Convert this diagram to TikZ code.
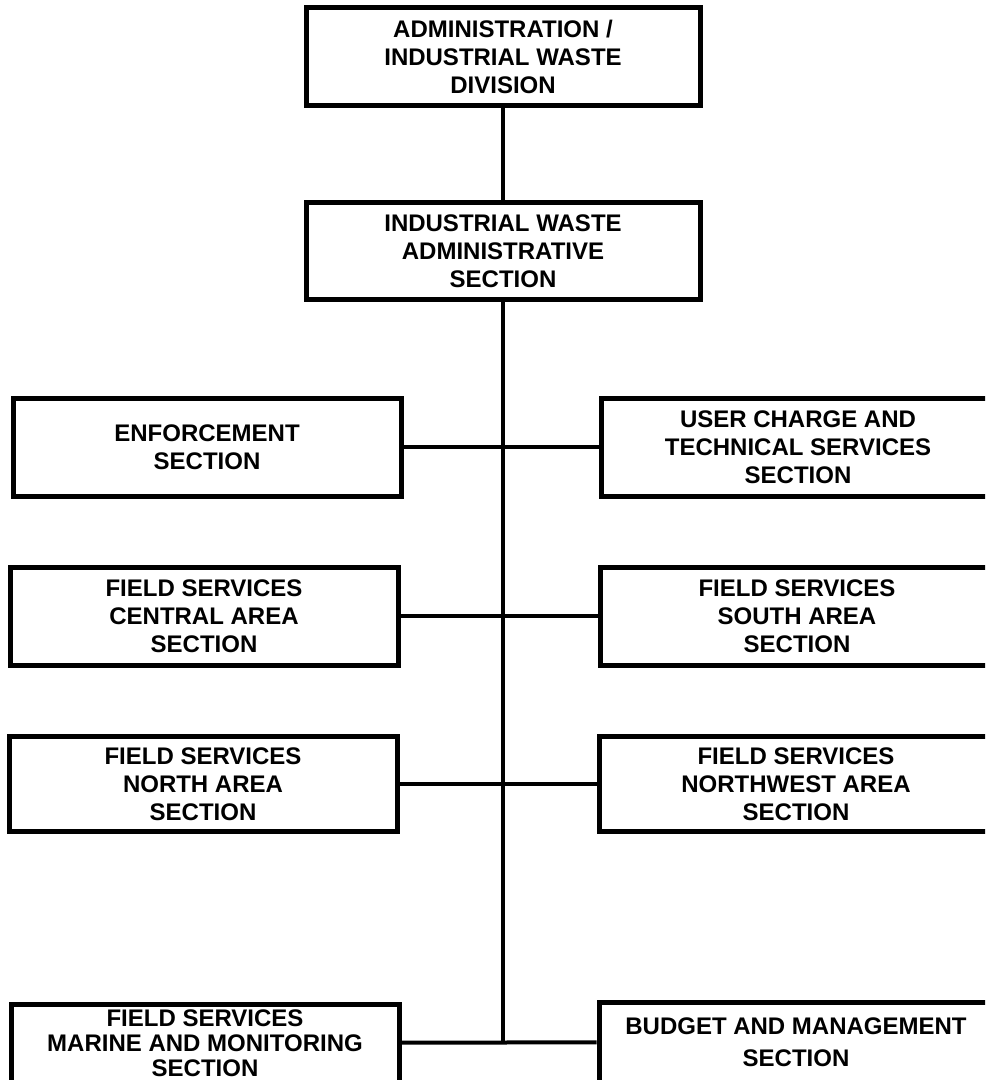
\documentclass[tikz,border=0pt]{standalone}
\usepackage{fontspec}
\setmainfont{Liberation Sans}
\usetikzlibrary{positioning}

\begin{document}
\begin{tikzpicture}[x=0.5pt, y=-0.5pt,
    unit/.style={rectangle, draw=black, line width=2.5pt, fill=white, align=center,
                 font=\bfseries\fontsize{12}{14}\selectfont, inner sep=0pt},
    headbox/.style={unit, minimum width=197pt, minimum height=49pt},
    leftbox/.style={unit, minimum width=194pt, minimum height=49pt},
    rightbox/.style={unit, minimum width=197pt, minimum height=49pt},
    lowbox/.style={minimum height=39pt, font=\bfseries\fontsize{12}{12.5}\selectfont},
    link/.style={line width=2pt}
]
    \useasboundingbox (0,0) rectangle (985,1080);
    \clip (0,0) rectangle (985,1080);

    % division and administrative section
    \node[headbox] (div) at (503,57) {ADMINISTRATION /\\INDUSTRIAL WASTE\\DIVISION};
    \node[headbox, minimum height=48.5pt] (adm) at (503,251) {INDUSTRIAL WASTE\\ADMINISTRATIVE\\SECTION};

    % sections, left column
    \node[leftbox] (enf) at (207,447) {ENFORCEMENT\\SECTION};
    \node[leftbox] (central) at (204,616) {FIELD SERVICES\\CENTRAL AREA\\SECTION};
    \node[leftbox, minimum height=47.5pt] (north) at (203,784) {FIELD SERVICES\\NORTH AREA\\SECTION};
    \node[leftbox, lowbox] (marine) at (205,1043) {FIELD SERVICES\\MARINE AND MONITORING\\SECTION};

    % sections, right column
    \node[rightbox] (user) at (798,447) {USER CHARGE AND\\TECHNICAL SERVICES\\SECTION};
    \node[rightbox] (south) at (797,616) {FIELD SERVICES\\SOUTH AREA\\SECTION};
    \node[rightbox, minimum height=47.5pt] (nwest) at (796,784) {FIELD SERVICES\\NORTHWEST AREA\\SECTION};
    \node[rightbox, minimum height=40pt] (budget) at (796,1042) {BUDGET AND MANAGEMENT\\[2pt]SECTION};

    % connectors
    \draw[link] (div) -- (adm);
    \draw[link] (adm.south) -- (adm.south |- marine.east);
    \draw[link] (enf) -- (user);
    \draw[link] (central) -- (south);
    \draw[link] (north) -- (nwest);
    \draw[link] (marine) -- (budget);
\end{tikzpicture}
\end{document}
